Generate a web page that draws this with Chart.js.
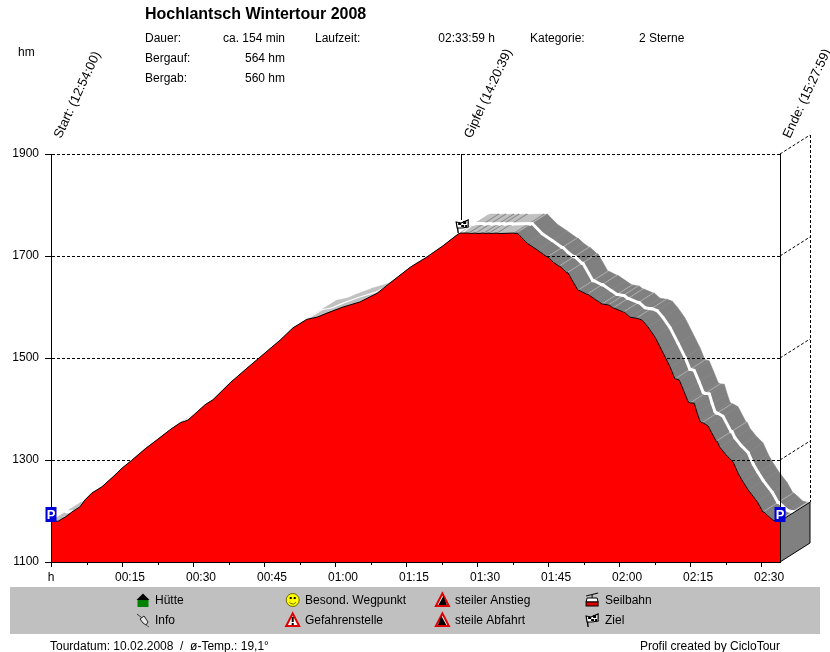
<!DOCTYPE html>
<html>
<head>
<meta charset="utf-8">
<title>Hochlantsch Wintertour 2008</title>
<script src="https://cdn.jsdelivr.net/npm/chart.js@4"></script>
<style>
  html, body { margin: 0; padding: 0; background: #fff; }
  canvas { display: block; }
</style>
</head>
<body>
<canvas id="profil" width="830" height="652"></canvas>
<script>
// minutes since start
const minutes = [
  0, 1.5, 3.0, 4.4, 6.1, 7.2, 8.6, 10.7, 13.1, 15.0, 17.0, 19.9, 22.6, 25.1, 27.3, 28.9, 30.6, 32.5, 34.2,
  37.8, 41.4, 44.2, 48.4, 51.1, 54.1, 56.2, 58.3, 61.7, 65.3, 68.9, 71.6, 75.9, 79.4, 82.8, 86.0, 86.6,
  88.2, 88.4, 89.7, 89.9, 91.4, 91.6, 92.5, 92.7, 94.2, 94.4, 97.8, 98.0, 98.5,
  100.6, 102.7, 104.8, 105.0, 106.1, 107.3, 107.5, 109.0, 109.2, 111.3, 111.5, 113.2, 113.4, 115.1,
  116.4, 116.6, 117.7, 117.9, 118.7, 118.9, 120.9, 121.1, 122.3, 123.6, 123.8, 124.9, 126.1, 127.6,
  129.3, 130.8, 131.8, 132.0, 132.7, 133.7, 134.6, 135.0, 135.2, 135.9, 136.5, 137.1, 137.5, 137.7,
  138.8, 140.5, 140.7, 141.3, 142.6, 144.1, 145.2, 146.2, 147.3, 149.2, 150.4, 150.6, 151.3, 152.5, 153.4, 154.0
];
// altitude in metres
const altitudes = [
  1180, 1180, 1188, 1198, 1208, 1222, 1235, 1247, 1267, 1284, 1299, 1322, 1341, 1359, 1373, 1378, 1392, 1408, 1418,
  1451, 1480, 1502, 1535, 1559, 1576, 1580, 1588, 1600, 1610, 1627, 1647, 1678, 1698, 1720, 1743, 1745,
  1745, 1744, 1745, 1744, 1745, 1744, 1745, 1744, 1745, 1744, 1745, 1744, 1745,
  1725, 1712, 1698, 1698, 1688, 1680, 1680, 1667, 1667, 1633, 1633, 1625, 1625, 1614,
  1606, 1606, 1604, 1604, 1598, 1598, 1590, 1590, 1580, 1578, 1578, 1574, 1561, 1541,
  1510, 1482, 1459, 1459, 1457, 1435, 1414, 1412, 1412, 1411, 1392, 1376, 1373, 1373,
  1367, 1337, 1337, 1325, 1310, 1296, 1273, 1257, 1241, 1218, 1198, 1198, 1192, 1182, 1180, 1180
];

const waypointTimes = [0, 86.65, 153.98];
const waypointLabels = ['Start: (12:54:00)', 'Gipfel (14:20:39)', 'Ende: (15:27:59)'];

const titleText = 'Hochlantsch Wintertour 2008';
const infoLabels = ['Dauer:', 'Bergauf:', 'Bergab:'];
const infoValues = ['ca. 154 min', '564 hm', '560 hm'];
const legendColumns = [
  ['Hütte', 'Info'],
  ['Besond. Wegpunkt', 'Gefahrenstelle'],
  ['steiler Anstieg', 'steile Abfahrt'],
  ['Seilbahn', 'Ziel']
];

const FONT = '12px "Liberation Sans", Arial, sans-serif';
const DEPTH_X = 30, DEPTH_Y = -19;
const DARK = '#808080', LIGHT = '#c0c0c0';

function label(ctx, text, x, y, align, font) {
  ctx.font = font || FONT;
  ctx.fillStyle = '#000';
  ctx.textAlign = align || 'left';
  ctx.textBaseline = 'alphabetic';
  ctx.fillText(text, x, y);
}

function poly(ctx, pts, fill, stroke, lw) {
  ctx.beginPath();
  pts.forEach((p, i) => i ? ctx.lineTo(p[0], p[1]) : ctx.moveTo(p[0], p[1]));
  ctx.closePath();
  if (fill) { ctx.fillStyle = fill; ctx.fill(); }
  if (stroke) { ctx.strokeStyle = stroke; ctx.lineWidth = lw || 1; ctx.stroke(); }
}

function seg(ctx, x1, y1, x2, y2, color, lw) {
  ctx.beginPath();
  ctx.moveTo(x1, y1);
  ctx.lineTo(x2, y2);
  ctx.strokeStyle = color || '#000';
  ctx.lineWidth = lw || 1;
  ctx.stroke();
}

// icons ----------------------------------------------------
function iconHouse(ctx, x, y) {
  poly(ctx, [[x - 6.5, y], [x, y - 6.5], [x + 6.5, y]], '#000');
  ctx.fillStyle = '#008000';
  ctx.fillRect(x - 5.5, y, 11, 7);
}
function iconPin(ctx, x, y) {
  seg(ctx, x - 6, y - 6, x - 1, y - 2, '#333');
  poly(ctx, [[x - 3, y - 1], [x + 1, y - 4], [x + 5, y + 2], [x + 3, y + 5], [x, y + 3]], '#e8e8e8', '#222');
  seg(ctx, x + 3, y + 5, x + 6, y + 7, '#555');
}
function iconSmiley(ctx, x, y) {
  ctx.beginPath();
  ctx.arc(x, y, 6.5, 0, Math.PI * 2);
  ctx.fillStyle = '#ffff00';
  ctx.fill();
  ctx.strokeStyle = '#6a6a00';
  ctx.lineWidth = 1;
  ctx.stroke();
  ctx.fillStyle = '#000';
  ctx.fillRect(x - 3, y - 3, 2, 2);
  ctx.fillRect(x + 1, y - 3, 2, 2);
  ctx.beginPath();
  ctx.arc(x, y, 4, 0.2 * Math.PI, 0.8 * Math.PI);
  ctx.stroke();
}
function iconTriangle(ctx, x, y) {
  poly(ctx, [[x, y - 6.5], [x + 6.5, y + 6], [x - 6.5, y + 6]], '#fff', '#e00000', 2);
}
function iconDanger(ctx, x, y) {
  iconTriangle(ctx, x, y);
  ctx.fillStyle = '#000';
  ctx.fillRect(x - 1, y - 3, 2, 5);
  ctx.fillRect(x - 1, y + 3, 2, 2);
}
function iconClimb(ctx, x, y) {
  iconTriangle(ctx, x, y);
  poly(ctx, [[x - 4, y + 5], [x + 1, y - 4], [x + 4.5, y + 5]], '#000');
}
function iconDescent(ctx, x, y) {
  iconTriangle(ctx, x, y);
  poly(ctx, [[x - 4.5, y + 5], [x - 1, y - 4], [x + 4, y + 5]], '#000');
}
function iconCable(ctx, x, y) {
  seg(ctx, x - 6, y - 4, x + 6, y - 7);
  seg(ctx, x, y - 5, x, y - 2);
  poly(ctx, [[x - 5, y - 2], [x + 5, y - 2], [x + 6, y + 2], [x - 6, y + 2]], '#fff', '#000');
  ctx.fillStyle = '#e00000';
  ctx.fillRect(x - 6, y + 2, 12, 4);
  ctx.strokeStyle = '#000';
  ctx.strokeRect(x - 6, y + 2, 12, 4);
}
function iconFlag(ctx, x, y) {
  seg(ctx, x - 5, y - 2, x - 4, y + 7, '#000', 1.4);
  poly(ctx, [[x - 6, y - 4], [x - 1, y - 3], [x + 6, y - 6], [x + 6, y + 1], [x, y + 2], [x - 5, y + 2]], '#fff', '#000', 1.2);
  ctx.fillStyle = '#000';
  ctx.fillRect(x - 4, y - 3, 3, 2);
  ctx.fillRect(x + 1, y - 5, 3, 3);
  ctx.fillRect(x - 1, y - 1, 3, 2);
  ctx.fillRect(x + 3, y - 1, 2, 2);
}
function iconParking(ctx, x, bottom) {
  ctx.fillStyle = '#0000d8';
  ctx.fillRect(x - 5.5, bottom - 15, 11, 15);
  ctx.fillStyle = '#fff';
  ctx.font = 'bold 13px "Liberation Sans", Arial, sans-serif';
  ctx.textAlign = 'center';
  ctx.textBaseline = 'alphabetic';
  ctx.fillText('P', x, bottom - 3);
}

const legendIcons = [
  [iconHouse, iconPin],
  [iconSmiley, iconDanger],
  [iconClimb, iconDescent],
  [iconCable, iconFlag]
];

// ribbon behind the profile, side wall and back wall --------
const depthPlugin = {
  id: 'depth',
  beforeDraw(chart) {
    const { ctx, chartArea: a, scales: { x, y } } = chart;
    ctx.save();
    const px = minutes.map(m => x.getPixelForValue(m));
    const py = altitudes.map(v => y.getPixelForValue(v));

    // back wall dashes
    ctx.setLineDash([3, 2]);
    [1900, 1700, 1500, 1300].forEach(v => {
      const gy = y.getPixelForValue(v);
      seg(ctx, a.right, gy, a.right + DEPTH_X, gy + DEPTH_Y);
    });
    const last = px.length - 1;
    seg(ctx, a.right + DEPTH_X + 0.5, a.top + DEPTH_Y, a.right + DEPTH_X + 0.5, py[last] + DEPTH_Y);
    ctx.setLineDash([]);

    // road surface: one quad per profile segment, light when it does not fall
    for (let i = 0; i < last; i++) {
      const color = altitudes[i + 1] < altitudes[i] ? DARK : LIGHT;
      poly(ctx, [
        [px[i], py[i]], [px[i + 1], py[i + 1]],
        [px[i + 1] + DEPTH_X, py[i + 1] + DEPTH_Y], [px[i] + DEPTH_X, py[i] + DEPTH_Y]
      ], color, color, 0.6);
    }

    // white middle line, thin where the road climbs
    ctx.lineCap = 'round';
    for (let i = 0; i < last; i++) {
      const climbing = altitudes[i + 1] - altitudes[i] > 2;
      seg(ctx, px[i] + DEPTH_X / 2, py[i] + DEPTH_Y / 2,
        px[i + 1] + DEPTH_X / 2, py[i + 1] + DEPTH_Y / 2, '#fff', climbing ? 1.1 : 3);
    }
    ctx.lineCap = 'butt';

    // side wall at the end of the profile
    poly(ctx, [
      [a.right, py[last]], [a.right + DEPTH_X, py[last] + DEPTH_Y],
      [a.right + DEPTH_X, a.bottom + DEPTH_Y], [a.right, a.bottom]
    ], DARK, '#000');
    ctx.restore();
  },
  afterDraw(chart) {
    const { ctx, chartArea: a, scales: { x, y } } = chart;
    ctx.save();

    // right frame line and minor ticks
    seg(ctx, a.right + 0.5, a.top, a.right + 0.5, a.bottom);
    for (let m = 7.5; m < 154; m += 15) {
      const tx = Math.round(x.getPixelForValue(m)) + 0.5;
      seg(ctx, tx, a.bottom, tx, a.bottom + 3);
    }
    label(ctx, 'h', a.left, 581, 'center');
    label(ctx, 'hm', 18, 56);

    // waypoints
    const summit = x.getPixelForValue(waypointTimes[1]);
    seg(ctx, Math.round(summit) + 0.5, a.top, Math.round(summit) + 0.5, 220);
    iconFlag(ctx, summit + 1, 226);
    iconParking(ctx, x.getPixelForValue(minutes[0]), 522);
    iconParking(ctx, x.getPixelForValue(minutes[minutes.length - 1]), 522);
    waypointTimes.forEach((t, i) => {
      ctx.save();
      ctx.translate(x.getPixelForValue(t) + 10, 139);
      ctx.rotate(-65 * Math.PI / 180);
      label(ctx, waypointLabels[i], 0, 0, 'left', '13px "Liberation Sans", Arial, sans-serif');
      ctx.restore();
    });

    // header
    label(ctx, titleText, 145, 18.5, 'left', 'bold 16px "Liberation Sans", Arial, sans-serif');
    infoLabels.forEach((t, i) => {
      label(ctx, t, 145, 42 + i * 20);
      label(ctx, infoValues[i], 285, 42 + i * 20, 'right');
    });
    label(ctx, 'Laufzeit:', 315, 42);
    label(ctx, '02:33:59 h', 495, 42, 'right');
    label(ctx, 'Kategorie:', 530, 42);
    label(ctx, '2 Sterne', 639, 42);

    // legend bar
    ctx.fillStyle = LIGHT;
    ctx.fillRect(10, 587, 810, 47);
    legendColumns.forEach((rows, c) => {
      rows.forEach((t, r) => {
        const ry = 600 + r * 20;
        legendIcons[c][r](ctx, 143 + c * 149.7, ry);
        label(ctx, t, 155 + c * 150, ry + 4);
      });
    });

    // footer
    label(ctx, 'Tourdatum: 10.02.2008  /  ø-Temp.: 19,1°', 50, 650);
    label(ctx, 'Profil created by CicloTour', 780, 650, 'right');
    ctx.restore();
  }
};

new Chart(document.getElementById('profil'), {
  type: 'line',
  data: {
    datasets: [{
      data: minutes.map((m, i) => ({ x: m, y: altitudes[i] })),
      borderColor: '#000',
      borderWidth: 1,
      backgroundColor: '#ff0000',
      fill: 'start',
      tension: 0,
      pointRadius: 0
    }]
  },
  options: {
    responsive: false,
    animation: false,
    devicePixelRatio: 1,
    layout: { padding: { top: 154, right: 50, bottom: 60, left: 0 } },
    plugins: { legend: { display: false }, title: { display: false }, tooltip: { enabled: false } },
    scales: {
      x: {
        type: 'linear',
        min: 0,
        max: 154,
        afterFit: s => { s.height = 30; },
        border: { color: '#000', z: 1 },
        grid: { drawOnChartArea: false, color: '#000', tickLength: 5 },
        ticks: {
          stepSize: 15,
          includeBounds: false,
          autoSkip: false,
          maxRotation: 0,
          minRotation: 0,
          labelOffset: 8,
          padding: 3,
          color: '#000',
          font: { family: '"Liberation Sans", Arial, sans-serif', size: 12 },
          callback: v => {
            if (v === 0) return '';
            const h = Math.floor(v / 60), m = v % 60;
            return String(h).padStart(2, '0') + ':' + String(m).padStart(2, '0');
          }
        }
      },
      y: {
        min: 1100,
        max: 1900,
        afterFit: s => { s.width = 51; },
        border: { color: '#000', z: 1, dash: [3, 2] },
        grid: { color: '#000', tickLength: 6, tickColor: '#000', tickBorderDash: [] },
        ticks: {
          stepSize: 200,
          padding: 6,
          color: '#000',
          font: { family: '"Liberation Sans", Arial, sans-serif', size: 12 },
          callback: v => String(v)
        }
      }
    }
  },
  plugins: [depthPlugin]
});
</script>
</body>
</html>
